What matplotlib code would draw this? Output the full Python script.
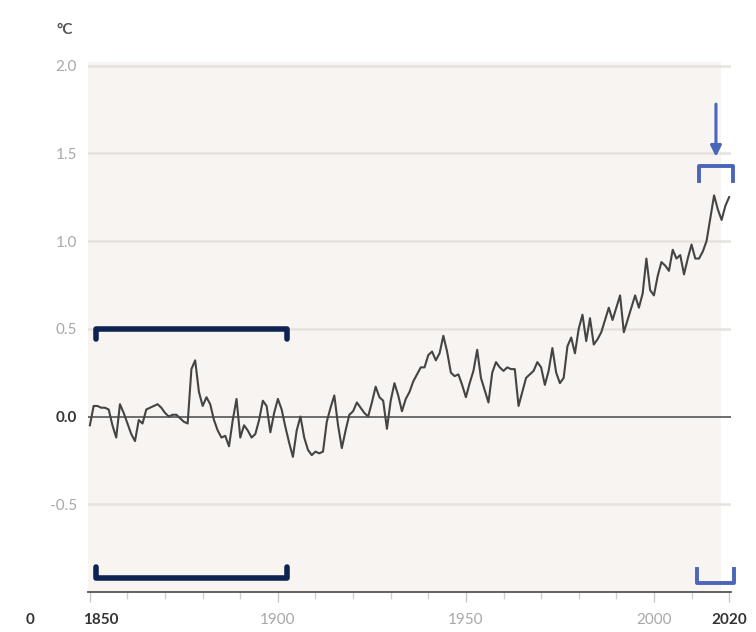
import matplotlib
matplotlib.use("Agg")
import matplotlib.pyplot as plt
from matplotlib.patches import Rectangle
from matplotlib.transforms import blended_transform_factory

plt.rcParams['font.family'] = ['Lato', 'DejaVu Sans']

years = list(range(1850, 2021))
anomaly = [
    -0.05, 0.06, 0.06, 0.05, 0.05, 0.04, -0.05, -0.12, 0.07, 0.02,
    -0.04, -0.10, -0.14, -0.02, -0.04, 0.04, 0.05, 0.06, 0.07, 0.05,
    0.02, 0.00, 0.01, 0.01, -0.01, -0.03, -0.04, 0.27, 0.32, 0.14,
    0.06, 0.11, 0.07, -0.02, -0.08, -0.12, -0.11, -0.17, -0.02, 0.10,
    -0.12, -0.05, -0.08, -0.12, -0.10, -0.02, 0.09, 0.06, -0.09, 0.02,
    0.10, 0.04, -0.06, -0.15, -0.23, -0.08, 0.00, -0.12, -0.19, -0.22,
    -0.20, -0.21, -0.20, -0.03, 0.05, 0.12, -0.05, -0.18, -0.08, 0.01,
    0.03, 0.08, 0.05, 0.02, 0.00, 0.08, 0.17, 0.11, 0.09, -0.07,
    0.09, 0.19, 0.12, 0.03, 0.10, 0.14, 0.20, 0.24, 0.28, 0.28,
    0.35, 0.37, 0.32, 0.36, 0.46, 0.37, 0.25, 0.23, 0.24, 0.18,
    0.11, 0.19, 0.26, 0.38, 0.22, 0.15, 0.08, 0.25, 0.31, 0.28,
    0.26, 0.28, 0.27, 0.27, 0.06, 0.14, 0.22, 0.24, 0.26, 0.31,
    0.28, 0.18, 0.26, 0.39, 0.25, 0.19, 0.22, 0.40, 0.45, 0.36,
    0.50, 0.58, 0.43, 0.56, 0.41, 0.44, 0.48, 0.55, 0.62, 0.55,
    0.62, 0.69, 0.48, 0.55, 0.62, 0.69, 0.62, 0.70, 0.90, 0.72,
    0.69, 0.80, 0.88, 0.86, 0.83, 0.95, 0.90, 0.92, 0.81, 0.90,
    0.98, 0.90, 0.90, 0.94, 1.00, 1.13, 1.26, 1.18, 1.12, 1.20,
    1.25,
]

y_ticks = [-0.5, 0.0, 0.5, 1.0, 1.5, 2.0]
x_labels = [1850, 1900, 1950, 2000, 2020]
minor_years = list(range(1860, 2020, 10))

navy = '#0f2352'
blue = '#4a66b8'

fig = plt.figure(figsize=(7.56, 6.32), dpi=100)
ax = fig.add_axes([88 / 756, 40 / 632, 643 / 756, 530 / 632])
ax.set_facecolor('none')
ax.set_xlim(1849.5, 2020.5)
ax.set_ylim(-1.0, 2.02)

# beige plot background, stops a little short of the right edge
ax.add_patch(Rectangle((0, 0), 0.985, 1, transform=ax.transAxes,
                       facecolor='#f7f4f1', edgecolor='none', zorder=0))

for s in ['top', 'right', 'left']:
    ax.spines[s].set_visible(False)
ax.spines['bottom'].set_color('#555555')
ax.spines['bottom'].set_linewidth(1.3)

for v in y_ticks:
    if v == 0.0:
        continue
    ax.axhline(v, color='#e6e2de', lw=1.8, zorder=1)
ax.axhline(0.0, color='#555555', lw=1.2, zorder=2)

ax.plot(years, anomaly, color='#444444', lw=1.5, zorder=3,
        solid_joinstyle='round')

# brackets
ax.plot([1851.5, 1851.5, 1902.5, 1902.5], [0.44, 0.5, 0.5, 0.44],
        color=navy, lw=4, solid_capstyle='round', solid_joinstyle='round',
        clip_on=False, zorder=4)
ax.plot([1851.5, 1851.5, 1902.5, 1902.5], [-0.86, -0.92, -0.92, -0.86],
        color=navy, lw=4, solid_capstyle='round', solid_joinstyle='round',
        clip_on=False, zorder=4)
ax.plot([2012, 2012, 2021, 2021], [1.34, 1.43, 1.43, 1.34],
        color=blue, lw=2.8, clip_on=False, zorder=4)
ax.plot([2011.5, 2011.5, 2021.2, 2021.2], [-0.87, -0.95, -0.95, -0.87],
        color=blue, lw=2.8, clip_on=False, zorder=4)
ax.annotate('', xy=(2016.5, 1.48), xytext=(2016.5, 1.78),
            arrowprops=dict(arrowstyle='-|>', color=blue, lw=2.2,
                            mutation_scale=16, shrinkA=0, shrinkB=0),
            annotation_clip=False, zorder=4)

# y labels
ax.set_yticks(y_ticks)
ax.set_yticklabels([('%.1f' % v) for v in y_ticks])
ax.tick_params(axis='y', length=0, pad=8, labelsize=11, labelcolor='#a8a8a8')
for lab in ax.get_yticklabels():
    if lab.get_text() == '0.0':
        lab.set_color('#333333')
        lab.set_fontweight('bold')

# x ticks
ax.set_xticks(x_labels)
ax.set_xticks(minor_years, minor=True)
ax.set_xticklabels([])
ax.tick_params(axis='x', which='major', length=7, color='#c8c8c8', width=1)
ax.tick_params(axis='x', which='minor', length=5, color='#d0d0d0', width=1)
for tl in ax.xaxis.get_major_ticks():
    if tl.get_loc() in (1850, 2020):
        tl.tick1line.set_color('#555555')

tr = blended_transform_factory(ax.transData, fig.transFigure)
for yr in x_labels:
    bold = yr in (1850, 2020)
    xpos = yr + 3 if yr == 1850 else yr
    ax.text(xpos, 12 / 632, str(yr), transform=tr, ha='center', va='center',
            fontsize=11, color='#333333' if bold else '#a8a8a8',
            fontweight='bold' if bold else 'normal')

fig.text(30 / 756, 12 / 632, '0', ha='center', va='center', fontsize=11,
         color='#333333', fontweight='bold')
fig.text(65 / 756, 602 / 632, '°C', ha='center', va='center', fontsize=11,
         color='#555555', fontweight='bold')

fig.savefig('out.png', dpi=100, facecolor='white')
